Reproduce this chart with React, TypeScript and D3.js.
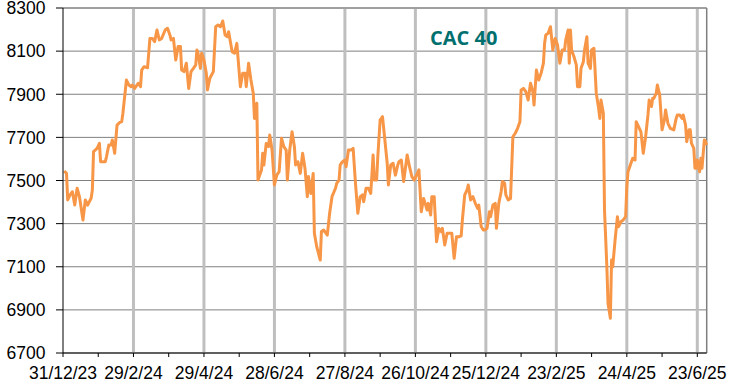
import React from "react";
import * as d3 from "d3";

// Trading days counted from 31/12/2023, and CAC 40 closing levels
const dayOffsets = [
  1, 3, 4, 6, 8, 10, 12, 14, 17, 19, 21, 24, 25, 26, 29, 31, 32, 36, 37, 39, 41, 42, 44, 46, 48, 50, 51, 54, 56, 58,
  59, 61, 64, 66, 67, 69, 72, 74, 76, 78, 80, 82, 84, 87, 89, 91, 92, 94, 96, 98, 100, 101, 103, 105, 107, 109, 111,
  113, 114, 115, 117, 118, 120, 122, 123, 125, 128, 130, 132, 134, 136, 138, 140, 141, 144, 146, 148, 151, 153, 155,
  156, 158, 160, 162, 163, 165, 166, 169, 170, 171, 173, 175, 176, 178, 180, 182, 184, 186, 188, 190, 191, 193, 195,
  197, 198, 200, 202, 204, 206, 208, 209, 211, 213, 214, 216, 219, 220, 222, 224, 225, 227, 229, 232, 233, 235, 236,
  238, 240, 241, 243, 245, 247, 249, 251, 253, 255, 256, 258, 260, 262, 264, 265, 267, 268, 270, 271, 272, 274, 276,
  277, 279, 281, 283, 285, 286, 288, 290, 293, 295, 297, 299, 301, 303, 305, 307, 310, 311, 313, 314, 316, 318, 320,
  322, 323, 325, 327, 329, 331, 333, 335, 337, 339, 340, 342, 344, 345, 347, 349, 351, 353, 354, 356, 358, 359, 361,
  363, 364, 366, 368, 369, 371, 373, 374, 376, 377, 379, 381, 383, 385, 387, 389, 390, 392, 394, 396, 398, 400, 401,
  403, 405, 407, 409, 410, 411, 413, 415, 417, 419, 421, 423, 425, 427, 428, 430, 431, 432, 433, 435, 437, 438, 440,
  441, 443, 444, 446, 447, 449, 450, 452, 454, 456, 457, 458, 460, 461, 463, 464, 466, 467, 468, 470, 472, 473, 475,
  477, 479, 480, 481, 483, 485, 487, 488, 490, 492, 494, 496, 498, 499, 501, 502, 503, 505, 506, 508, 510, 512, 513,
  515, 517, 520, 522, 523, 525, 527, 528, 530, 531, 533, 534, 535, 537, 538, 539, 540, 542, 543, 544, 546, 547, 548,
];

const cacValues = [
  7544, 7533, 7410, 7433, 7448, 7386, 7464, 7425, 7317, 7410, 7386, 7419, 7456, 7634, 7649, 7672, 7587, 7587, 7610,
  7665, 7665, 7688, 7626, 7757, 7768, 7773, 7812, 7966, 7943, 7935, 7943, 7927, 7951, 7935, 8012, 8028, 8023, 8159,
  8159, 8144, 8198, 8152, 8159, 8198, 8206, 8175, 8152, 8159, 8059, 8121, 8121, 8012, 8005, 8044, 7927, 8005, 8020,
  8036, 8105, 8090, 8020, 8090, 8059, 7997, 7920, 7974, 8005, 8213, 8221, 8213, 8240, 8175, 8167, 8190, 8097, 8090,
  8136, 7935, 7997, 7997, 7935, 8044, 7966, 7904, 7788, 7858, 7502, 7549, 7626, 7572, 7672, 7657, 7711, 7640, 7479,
  7525, 7541, 7696, 7657, 7641, 7502, 7641, 7726, 7657, 7572, 7587, 7533, 7626, 7557, 7425, 7518, 7440, 7533, 7255,
  7193, 7131, 7263, 7270, 7255, 7247, 7348, 7425, 7464, 7487, 7502, 7572, 7587, 7595, 7564, 7641, 7641, 7649, 7487,
  7348, 7425, 7433, 7402, 7464, 7464, 7440, 7618, 7502, 7502, 7610, 7781, 7788, 7796, 7688, 7580, 7479, 7572, 7580,
  7525, 7572, 7587, 7595, 7495, 7618, 7564, 7518, 7502, 7525, 7549, 7355, 7417, 7363, 7394, 7340, 7425, 7425, 7216,
  7278, 7263, 7278, 7201, 7255, 7255, 7255, 7139, 7239, 7239, 7243, 7317, 7433, 7456, 7479, 7410, 7425, 7394, 7371,
  7386, 7286, 7270, 7270, 7278, 7355, 7332, 7386, 7394, 7278, 7394, 7448, 7495, 7487, 7433, 7410, 7417, 7703, 7719,
  7742, 7773, 7920, 7927, 7912, 7873, 7951, 7912, 7850, 8012, 7966, 7997, 8044, 8136, 8175, 8183, 8213, 8105, 8159,
  8128, 8044, 8105, 8105, 8152, 8198, 8044, 8198, 8105, 8074, 8036, 7935, 7935, 8020, 8051, 8105, 8167, 8044, 8020,
  8105, 8113, 7904, 7835, 7788, 7873, 7812, 7363, 7100, 6930, 6861, 7131, 7100, 7224, 7332, 7286, 7309, 7317, 7332,
  7472, 7541, 7572, 7603, 7595, 7773, 7750, 7726, 7626, 7703, 7804, 7873, 7843, 7881, 7881, 7904, 7943, 7896, 7735,
  7781, 7827, 7765, 7742, 7735, 7788, 7804, 7804, 7788, 7804, 7757, 7680, 7735, 7735, 7673, 7649, 7557, 7557, 7595,
  7541, 7603, 7557, 7688, 7680, 7665,
];

const yTicks = [6700, 6900, 7100, 7300, 7500, 7700, 7900, 8100, 8300];
const labelStepDays = 60;
const minorStepDays = 30;
const seriesTitle = "CAC 40";

const startDate = new Date(2023, 11, 31);
const endOffsetDays = 548;

export default function App() {
  const W = 743;
  const H = 383;
  const left = 63;
  const right = 706.7;
  const top = 8;
  const bottom = 353;

  const endDate = d3.timeDay.offset(startDate, endOffsetDays);
  const x = d3.scaleTime().domain([startDate, endDate]).range([left, right]);
  const y = d3.scaleLinear().domain([6700, 8300]).range([bottom, top]);

  const data = dayOffsets.map((d, i) => ({ date: d3.timeDay.offset(startDate, d), v: cacValues[i] }));
  const line = d3
    .line<{ date: Date; v: number }>()
    .x((d) => x(d.date))
    .y((d) => y(d.v));

  const majorDates = d3.range(0, endOffsetDays + 1, labelStepDays).map((d) => d3.timeDay.offset(startDate, d));
  const minorDates = d3.range(0, endOffsetDays + 1, minorStepDays).map((d) => d3.timeDay.offset(startDate, d));
  const fmt = d3.timeFormat("%-d/%-m/%y");

  const font = "'Liberation Sans', Arial, sans-serif";

  return (
    <div style={{ position: "absolute", left: 0, top: 0 }}>
      <svg width={W} height={H} style={{ display: "block", background: "#fff" }}>
        {/* horizontal gridlines */}
        {yTicks.map((t) => (
          <line key={"h" + t} x1={left} x2={right} y1={y(t)} y2={y(t)} stroke="#808080" strokeWidth={1} />
        ))}
        {/* vertical gridlines */}
        {majorDates.slice(1).map((d, i) => (
          <line key={"v" + i} x1={x(d)} x2={x(d)} y1={top} y2={bottom} stroke="#BFBFBF" strokeWidth={3} />
        ))}
        {/* frame top / right */}
        <line x1={left} x2={right} y1={top} y2={top} stroke="#808080" strokeWidth={1} />
        <line x1={right} x2={right} y1={top} y2={bottom} stroke="#7F7F7F" strokeWidth={1.5} />
        {/* series */}
        <path d={line(data) || ""} fill="none" stroke="#F79646" strokeWidth={3} strokeLinejoin="round" />
        {/* axes */}
        <line x1={left} x2={left} y1={top} y2={bottom} stroke="#000" strokeWidth={1} />
        <line x1={left} x2={right} y1={bottom} y2={bottom} stroke="#000" strokeWidth={1} />
        {yTicks.map((t) => (
          <g key={"yt" + t}>
            <line x1={left - 7} x2={left} y1={y(t)} y2={y(t)} stroke="#000" strokeWidth={1} />
            <text x={45.5} y={y(t)} dy="0.36em" textAnchor="end" fontFamily={font} fontSize={17.5} fill="#000">
              {t}
            </text>
          </g>
        ))}
        {minorDates.map((d, i) => (
          <line key={"mt" + i} x1={x(d)} x2={x(d)} y1={bottom} y2={bottom + 4} stroke="#000" strokeWidth={1} />
        ))}
        {majorDates.map((d, i) => (
          <text key={"xl" + i} x={x(d)} y={379} textAnchor="middle" fontFamily={font} fontSize={17.5} fill="#000">
            {fmt(d)}
          </text>
        ))}
        <text x={430} y={45} fontFamily="'Open Sans', sans-serif" fontWeight={700} fontSize={20} fill="#00706F">
          {seriesTitle}
        </text>
      </svg>
    </div>
  );
}
